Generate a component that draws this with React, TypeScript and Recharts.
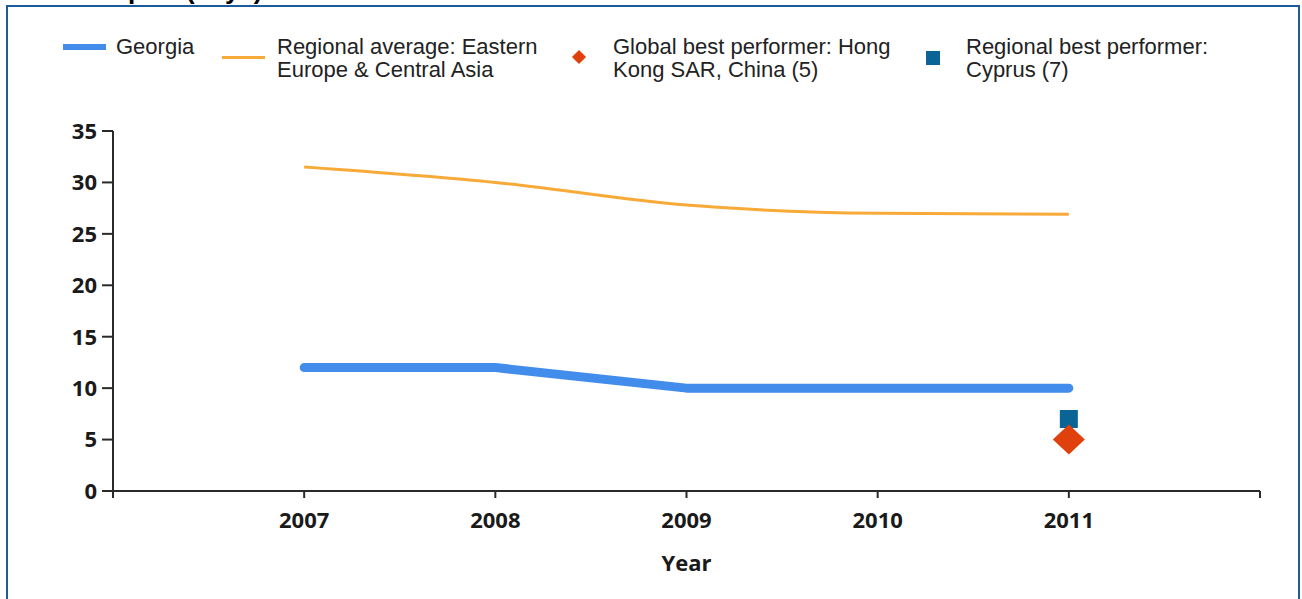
import React from "react"
import { ComposedChart, Line, Scatter, XAxis, YAxis } from "recharts"

const years = [2007, 2008, 2009, 2010, 2011]
const georgia = [12, 12, 10, 10, 10]
const regionalAverage = [31.5, 30.0, 27.8, 27.0, 26.9]
const globalBest = [{ year: 2011, value: 5 }]
const regionalBest = [{ year: 2011, value: 7 }]
const xTicks = [2006, 2007, 2008, 2009, 2010, 2011, 2012]
const yTicks = [0, 5, 10, 15, 20, 25, 30, 35]

const BLUE = "#428cec"
const ORANGE = "#f7aa38"
const RED = "#e0400c"
const TEAL = "#0b6496"
const TICK_FONT = "'Open Sans', sans-serif"
const LEGEND_FONT = "'Liberation Sans', Arial, sans-serif"

const chartData = years.map((year, i) => ({
  year,
  georgia: georgia[i],
  regional: regionalAverage[i],
}))

const Diamond = (props: any) => {
  const { cx, cy } = props
  return <path d={`M${cx},${cy - 15} L${cx + 16},${cy} L${cx},${cy + 15} L${cx - 16},${cy} Z`} fill={RED} />
}

const Square = (props: any) => {
  const { cx, cy } = props
  return <rect x={cx - 9} y={cy - 9} width={18} height={18} fill={TEAL} />
}

const legendText: React.CSSProperties = {
  position: "absolute",
  fontFamily: LEGEND_FONT,
  fontSize: 22,
  lineHeight: "23px",
  color: "#222",
  whiteSpace: "nowrap",
}

function ChartLegend() {
  return (
    <>
      <div style={{ position: "absolute", left: 63, top: 44, width: 43, height: 6, background: BLUE }} />
      <div style={{ ...legendText, left: 116, top: 35 }}>Georgia</div>

      <div style={{ position: "absolute", left: 222, top: 56, width: 43, height: 3, background: ORANGE }} />
      <div style={{ ...legendText, left: 277, top: 35 }}>
        Regional average: Eastern
        <br />
        Europe &amp; Central Asia
      </div>

      <div style={{ position: "absolute", left: 574, top: 52, width: 10, height: 10, background: RED, transform: "rotate(45deg)" }} />
      <div style={{ ...legendText, left: 613, top: 35 }}>
        Global best performer: Hong
        <br />
        Kong SAR, China (5)
      </div>

      <div style={{ position: "absolute", left: 926, top: 51, width: 14, height: 14, background: TEAL }} />
      <div style={{ ...legendText, left: 966, top: 35 }}>
        Regional best performer:
        <br />
        Cyprus (7)
      </div>
    </>
  )
}

export default function App() {
  return (
    <div style={{ position: "absolute", left: 0, top: 0, width: 1302, height: 599, overflow: "hidden", background: "#fff" }}>
      <div
        style={{
          position: "absolute",
          left: 0,
          top: -23,
          fontFamily: LEGEND_FONT,
          fontWeight: 700,
          fontSize: 26,
          lineHeight: "26px",
          color: "#000",
          whiteSpace: "nowrap",
        }}
      >
        Time to export (days)
      </div>
      <div
        style={{
          position: "absolute",
          left: 6,
          top: 5,
          width: 1294,
          height: 700,
          border: "2px solid #1d5c9c",
          boxSizing: "border-box",
        }}
      />
      <ChartLegend />
      <div style={{ position: "absolute", left: 0, top: 0 }}>
        <ComposedChart width={1302} height={599} data={chartData} margin={{ top: 131, right: 42, left: 53, bottom: 28 }}>
          <XAxis
            dataKey="year"
            type="number"
            domain={[2006, 2012]}
            ticks={xTicks}
            tickFormatter={(v: number) => (v === 2006 || v === 2012 ? "" : String(v))}
            height={80}
            stroke="#2a2a2a"
            strokeWidth={2}
            tickSize={7}
            tickMargin={14}
            tick={{ fill: "#1a1a1a", fontFamily: TICK_FONT, fontWeight: 700, fontSize: 22 }}
            label={{
              value: "Year",
              position: "insideBottom",
              offset: 0,
              fill: "#1a1a1a",
              fontFamily: TICK_FONT,
              fontWeight: 700,
              fontSize: 22,
            }}
          />
          <YAxis
            type="number"
            domain={[0, 35]}
            ticks={yTicks}
            width={60}
            stroke="#2a2a2a"
            strokeWidth={2}
            tickSize={11}
            tickMargin={5}
            tick={{ fill: "#1a1a1a", fontFamily: TICK_FONT, fontWeight: 700, fontSize: 22 }}
          />
          <Line
            dataKey="regional"
            type="monotone"
            stroke={ORANGE}
            strokeWidth={3}
            dot={false}
            isAnimationActive={false}
          />
          <Line
            dataKey="georgia"
            type="linear"
            stroke={BLUE}
            strokeWidth={9}
            strokeLinecap="round"
            strokeLinejoin="round"
            dot={false}
            isAnimationActive={false}
          />
          <Scatter data={regionalBest} dataKey="value" shape={Square} isAnimationActive={false} />
          <Scatter data={globalBest} dataKey="value" shape={Diamond} isAnimationActive={false} />
        </ComposedChart>
      </div>
    </div>
  )
}
